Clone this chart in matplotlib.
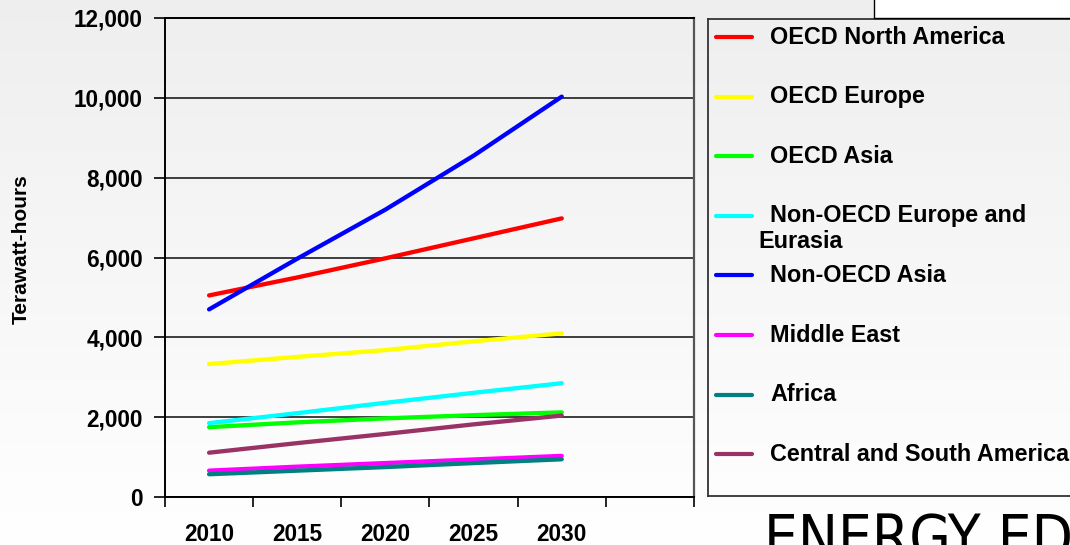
import numpy as np
import matplotlib.pyplot as plt
from matplotlib.lines import Line2D
from matplotlib.patches import Rectangle

# World electricity generation by region (terawatt-hours)
years = ["2010", "2015", "2020", "2025", "2030"]
regions = [
    "OECD North America",
    "OECD Europe",
    "OECD Asia",
    "Non-OECD Europe and\nEurasia",
    "Non-OECD Asia",
    "Middle East",
    "Africa",
    "Central and South America",
]
oecd_north_america = [5050, 5500, 5980, 6480, 6980]
oecd_europe = [3330, 3510, 3680, 3900, 4100]
oecd_asia = [1750, 1870, 1970, 2050, 2120]
non_oecd_europe_eurasia = [1850, 2100, 2360, 2610, 2850]
non_oecd_asia = [4700, 5970, 7200, 8550, 10030]
middle_east = [660, 760, 850, 940, 1030]
africa = [570, 660, 750, 850, 945]
central_south_america = [1110, 1350, 1580, 1820, 2040]

series = [oecd_north_america, oecd_europe, oecd_asia, non_oecd_europe_eurasia,
          non_oecd_asia, middle_east, africa, central_south_america]
colors = ["#ff0000", "#ffff00", "#00ff00", "#00ffff",
          "#0000ff", "#ff00ff", "#008080", "#993366"]

plt.rcParams['font.family'] = ['Liberation Sans', 'DejaVu Sans']
plt.rcParams['font.weight'] = 'bold'

W, H = 1070, 545
fig = plt.figure(figsize=(W / 100, H / 100), dpi=100)

# soft grey-to-white background
bg = fig.add_axes([0, 0, 1, 1], zorder=-10)
grad = np.linspace(0.935, 1.0, 256).reshape(-1, 1)
bg.imshow(np.dstack([grad, grad, grad]), aspect='auto', extent=[0, 1, 0, 1])
bg.axis('off')

def fx(px):
    return px / W

def fy(py):
    return 1 - py / H

# main plot area
ax = fig.add_axes([fx(165), fy(497), fx(694 - 165), (497 - 18) / H])
ax.patch.set_alpha(0)
x = np.arange(len(years))
for vals, c in zip(series, colors):
    ax.plot(x, vals, color=c, lw=3.1, solid_capstyle='round', zorder=3)

ax.set_xlim(-0.5, 5.5)
ax.set_ylim(0, 12000)
ax.set_yticks(np.arange(0, 12001, 2000))
ax.set_yticklabels([f"{v:,}" for v in range(0, 12001, 2000)], fontsize=16.3, fontweight='bold')
ax.yaxis.grid(True, color='#1e1e1e', lw=1.2)
ax.set_axisbelow(True)

ax.set_xticks(np.arange(-0.5, 5.6, 1))
ax.set_xticklabels([])
ax.set_xticks(x, minor=True)
ax.set_xticklabels(years, minor=True, fontsize=16.3, fontweight='bold')
ax.tick_params(axis='x', which='major', length=7, width=1.2, direction='out')
ax.tick_params(axis='x', which='minor', length=0, pad=19)
ax.tick_params(axis='y', length=8, width=1.2, pad=8)

for s in ['left', 'bottom', 'top']:
    ax.spines[s].set_color('black')
    ax.spines[s].set_linewidth(1.4)
ax.spines['right'].set_color('#555555')
ax.spines['right'].set_linewidth(1.6)

fig.text(fx(21.5), fy(249), "Terawatt-hours", rotation=90, ha='center', va='center',
         fontsize=15, fontweight='bold')

# legend box, drawn by hand so the wrapped label lines up
leg = fig.add_axes([fx(708), fy(496), fx(1080 - 708), (496 - 19) / H])
leg.patch.set_alpha(0)
leg.set_xticks([])
leg.set_yticks([])
for s in leg.spines.values():
    s.set_color('#333333')
    s.set_linewidth(1.3)

row_y = 37
for label, c in zip(regions, colors):
    fig.add_artist(Line2D([fx(716), fx(752)], [fy(row_y), fy(row_y)], color=c, lw=3,
                          solid_capstyle='round'))
    for k, part in enumerate(label.split("\n")):
        fig.text(fx(770 if k == 0 else 758), fy(row_y + 26 * k), part, ha='left', va='center',
                 fontsize=16.8, fontweight='bold')
    row_y += 59.6

# white box in the upper right corner
fig.add_artist(Rectangle((fx(874), fy(18)), 0.2, 0.1, facecolor='white', edgecolor='black',
                         lw=1, transform=fig.transFigure))

# logo text at the bottom right
fig.text(fx(764), fy(512), "ENERGY EDGE", ha='left', va='top', fontsize=43,
         fontweight='light', fontstretch='condensed', family=['DejaVu Sans'], color='black')

fig.savefig("out.png", dpi=100)
